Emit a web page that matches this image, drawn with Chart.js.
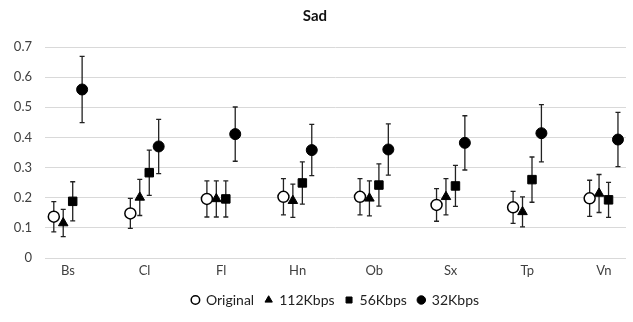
<!DOCTYPE html>
<html>
<head>
<meta charset="utf-8">
<script src="https://cdn.jsdelivr.net/npm/chart.js@4/dist/chart.umd.min.js"></script>
<style>
  html, body { margin: 0; padding: 0; background: #fff; }
  #wrap { width: 633px; height: 322px; position: relative; }
</style>
</head>
<body>
<div id="wrap"><canvas id="chartSad"></canvas></div>
<script>
// Categorías y valores
var categorias = ["Bs", "Cl", "Fl", "Hn", "Ob", "Sx", "Tp", "Vn"];
var etiquetasSeries = ["Original", "112Kbps", "56Kbps", "32Kbps"];

var original = [0.137, 0.148, 0.196, 0.203, 0.203, 0.176, 0.168, 0.198];
var originalErr = [0.05, 0.05, 0.06, 0.06, 0.06, 0.054, 0.053, 0.06];

var kbps112 = [0.116, 0.201, 0.196, 0.19, 0.198, 0.203, 0.153, 0.214];
var kbps112Err = [0.045, 0.06, 0.06, 0.055, 0.058, 0.06, 0.05, 0.063];

var kbps56 = [0.188, 0.283, 0.196, 0.249, 0.242, 0.239, 0.26, 0.193];
var kbps56Err = [0.065, 0.075, 0.06, 0.07, 0.07, 0.068, 0.075, 0.058];

var kbps32 = [0.559, 0.37, 0.411, 0.358, 0.36, 0.382, 0.414, 0.393];
var kbps32Err = [0.11, 0.09, 0.09, 0.085, 0.085, 0.09, 0.095, 0.09];

var ticksY = [0, 0.1, 0.2, 0.3, 0.4, 0.5, 0.6, 0.7];

var fuente = "Lato, 'Open Sans', sans-serif";
var gris = "#404040";

// desplazamiento de cada serie dentro de la categoría
var desplazamientos = [-0.185, -0.062, 0.062, 0.185];

function puntos(valores, errores, k) {
  return valores.map(function (v, i) {
    return { x: i + desplazamientos[k], y: v, err: errores[i] };
  });
}

// Plugin para dibujar las barras de error con las escalas del gráfico
var barrasError = {
  id: "barrasError",
  beforeDatasetsDraw: function (chart) {
    var ctx = chart.ctx;
    var xs = chart.scales.x;
    var ys = chart.scales.y;
    ctx.save();
    ctx.strokeStyle = "#222";
    ctx.lineWidth = 1.3;
    chart.data.datasets.forEach(function (ds) {
      ds.data.forEach(function (p) {
        var px = xs.getPixelForValue(p.x);
        var top = ys.getPixelForValue(p.y + p.err);
        var bot = ys.getPixelForValue(p.y - p.err);
        ctx.beginPath();
        ctx.moveTo(px, top);
        ctx.lineTo(px, bot);
        ctx.moveTo(px - 2.5, top);
        ctx.lineTo(px + 2.5, top);
        ctx.moveTo(px - 2.5, bot);
        ctx.lineTo(px + 2.5, bot);
        ctx.stroke();
      });
    });
    ctx.restore();
  },
};

var ctx = document.getElementById("chartSad").getContext("2d");

var chartSad = new Chart(ctx, {
  type: "scatter",
  data: {
    datasets: [
      {
        label: etiquetasSeries[0],
        data: puntos(original, originalErr, 0),
        pointStyle: "circle",
        pointRadius: 5.5,
        pointBackgroundColor: "#fff",
        pointBorderColor: "#000",
        pointBorderWidth: 1.5,
        backgroundColor: "#fff",
        borderColor: "#000",
        borderWidth: 1.5,
      },
      {
        label: etiquetasSeries[1],
        data: puntos(kbps112, kbps112Err, 1),
        pointStyle: "triangle",
        pointRadius: 5.5,
        pointBackgroundColor: "#000",
        pointBorderColor: "#000",
        backgroundColor: "#000",
        borderColor: "#000",
        borderWidth: 1,
      },
      {
        label: etiquetasSeries[2],
        data: puntos(kbps56, kbps56Err, 2),
        pointStyle: "rect",
        pointRadius: 6,
        pointBackgroundColor: "#000",
        pointBorderColor: "#000",
        backgroundColor: "#000",
        borderColor: "#000",
        borderWidth: 1,
      },
      {
        label: etiquetasSeries[3],
        data: puntos(kbps32, kbps32Err, 3),
        pointStyle: "circle",
        pointRadius: 5.5,
        pointBackgroundColor: "#000",
        pointBorderColor: "#000",
        backgroundColor: "#000",
        borderColor: "#000",
        borderWidth: 1,
      },
    ],
  },
  options: {
    responsive: true,
    maintainAspectRatio: false,
    animation: false,
    layout: { padding: { left: 0, right: 3, top: 0, bottom: 5 } },
    scales: {
      x: {
        type: "linear",
        min: -0.3,
        max: 7.29,
        grid: { display: false, drawTicks: false },
        border: { display: false },
        afterBuildTicks: function (scale) {
          scale.ticks = categorias.map(function (c, i) { return { value: i }; });
        },
        afterFit: function (scale) { scale.height = 24; },
        ticks: {
          autoSkip: false,
          maxRotation: 0,
          padding: 5,
          color: gris,
          font: { family: fuente, size: 13 },
          callback: function (v) { return categorias[v]; },
        },
      },
      y: {
        min: 0,
        max: 0.7,
        afterBuildTicks: function (scale) {
          scale.ticks = ticksY.map(function (v) { return { value: v }; });
        },
        afterFit: function (scale) { scale.width = 45; },
        grid: { color: "#d9d9d9", lineWidth: 1, drawTicks: false },
        border: { display: false },
        ticks: {
          padding: 13,
          color: gris,
          font: { family: fuente, size: 13 },
          callback: function (v) { return String(Math.round(v * 10) / 10); },
        },
      },
    },
    plugins: {
      title: {
        display: true,
        text: "Sad",
        color: "#111",
        font: { family: fuente, size: 15, weight: "bold" },
        padding: { top: 7, bottom: 22 },
      },
      legend: {
        display: true,
        position: "bottom",
        fullSize: false,
        labels: {
          usePointStyle: true,
          boxWidth: 7,
          boxHeight: 6,
          padding: 11,
          color: "#222",
          font: { family: fuente, size: 14 },
        },
      },
      tooltip: { enabled: false },
    },
  },
  plugins: [barrasError],
});
</script>
</body>
</html>
